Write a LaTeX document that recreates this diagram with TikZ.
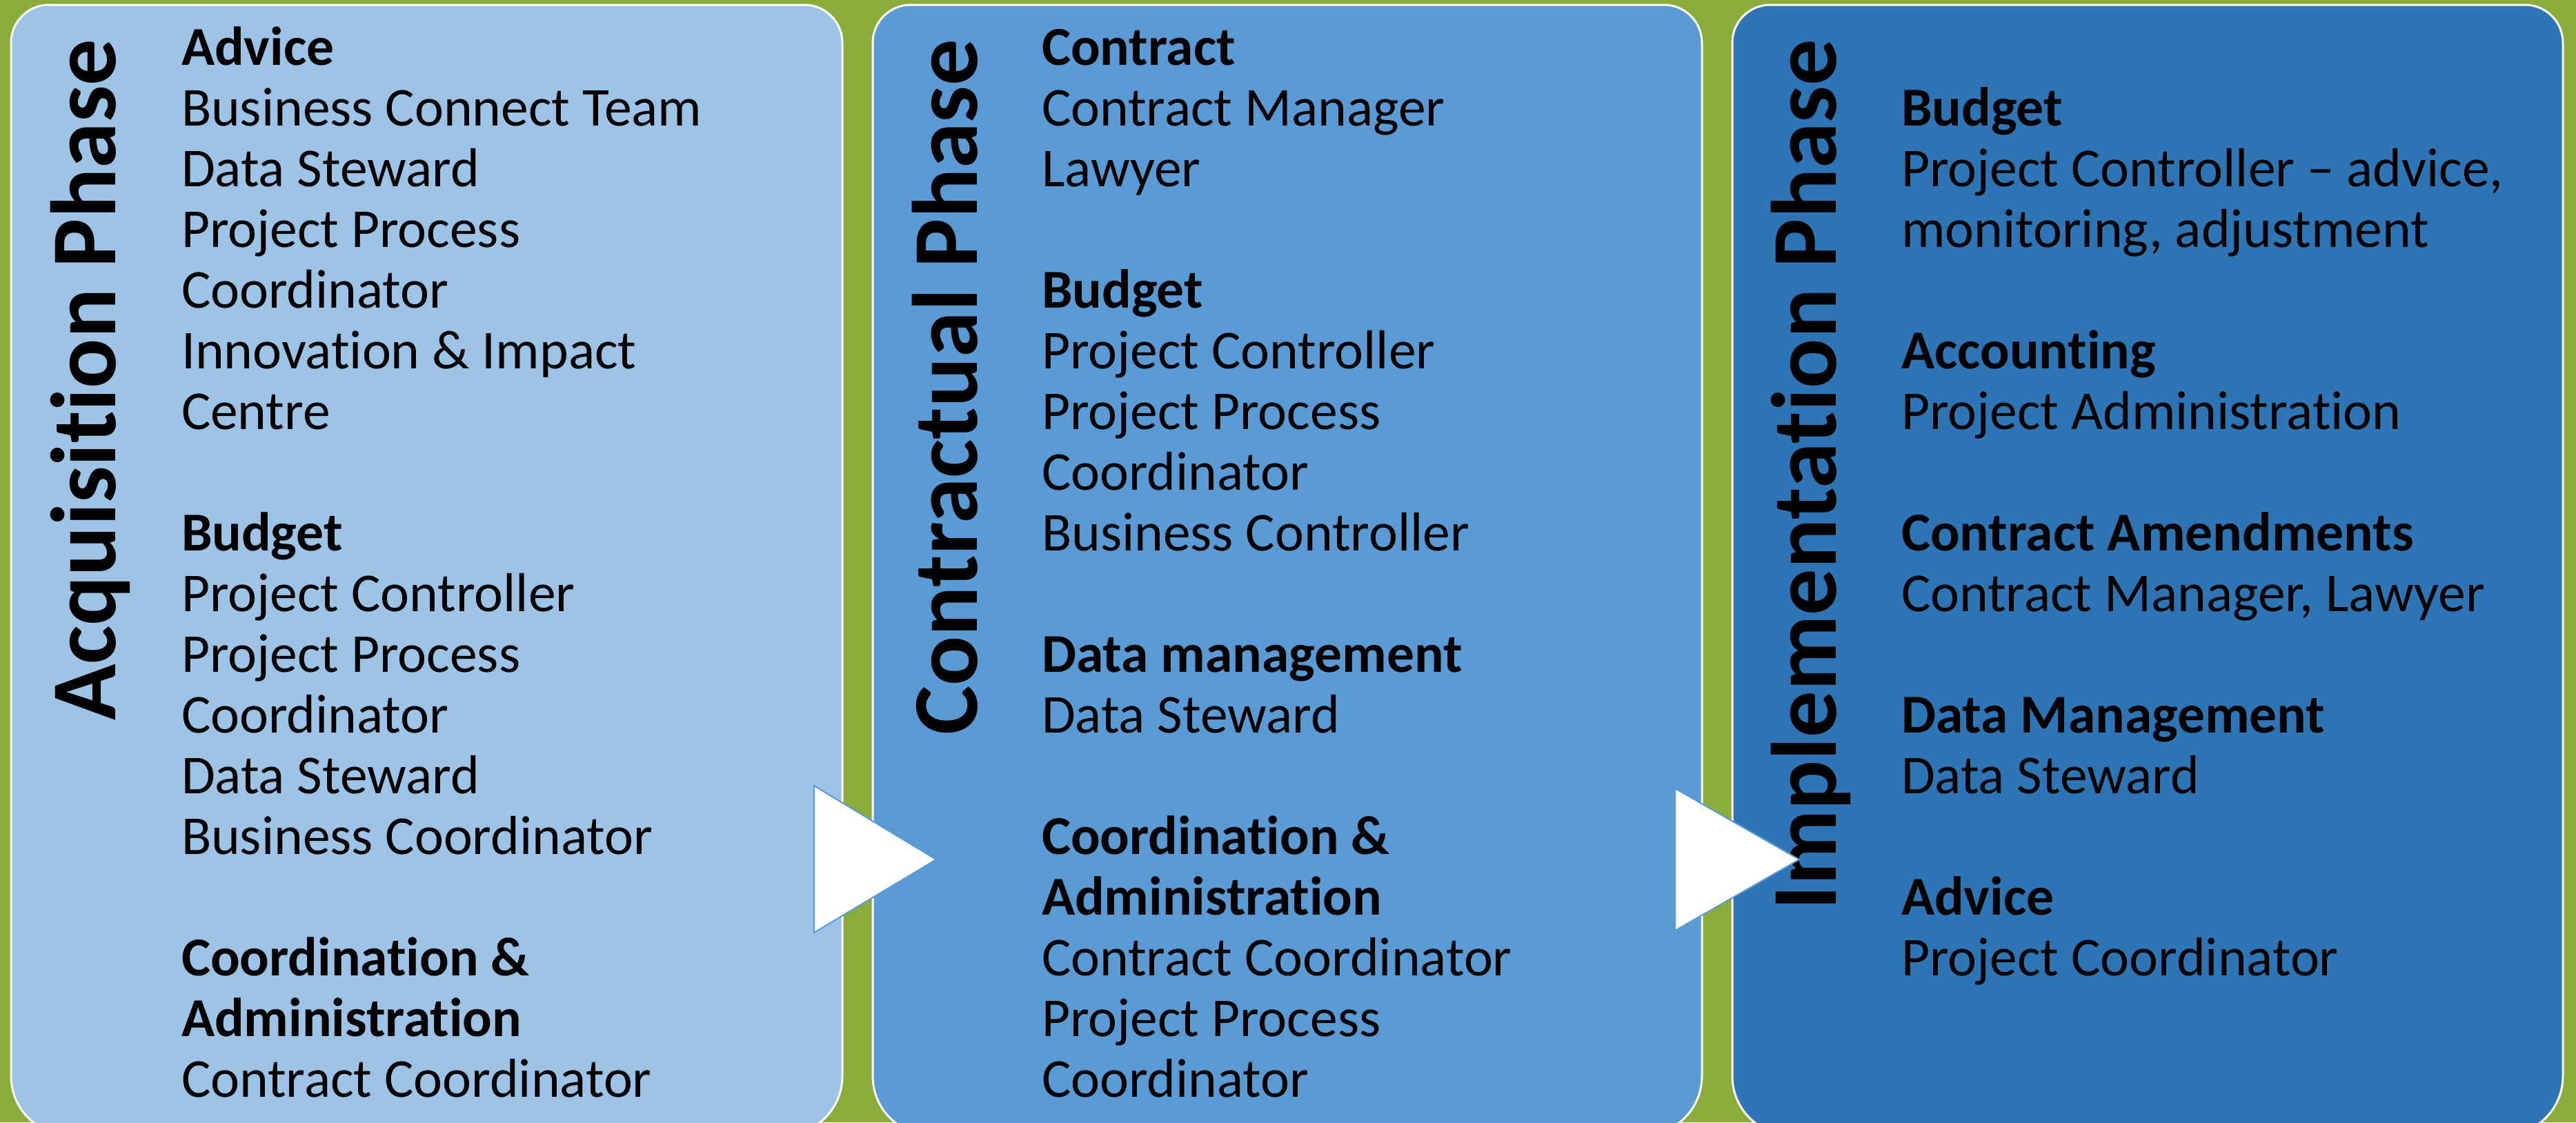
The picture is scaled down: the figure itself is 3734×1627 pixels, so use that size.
\documentclass[tikz,border=0pt]{standalone}
\usepackage{fontspec}
\setmainfont{Carlito}[Ligatures=NoCommon]
\definecolor{bggreen}{HTML}{8AAD3A}
\definecolor{boxA}{HTML}{9DC3E6}
\definecolor{boxB}{HTML}{5B9BD5}
\definecolor{boxC}{HTML}{2E75B6}
\definecolor{triline}{HTML}{5B9BD5}
\newcommand{\phasebox}[3]{%
  \filldraw[fill=#3, draw=white, line width=0.6pt]
    (#1,800) [rounded corners=17.2pt] -- (#1,1646) -- (#2,1646) -- (#2,800)
    [rounded corners=11pt] -- (#2,7) -- (#1,7) [sharp corners] -- cycle;}
\newcommand{\bodytext}[1]{\parbox[t]{220pt}{\raggedright\lineskiplimit=-20pt\fontsize{15.9pt}{17.6pt}\selectfont #1}}
\tikzset{
  title/.style={rotate=90, anchor=base east, inner sep=0pt, font=\fontsize{26.9pt}{30pt}\selectfont\bfseries},
  body/.style={anchor=base west, inner sep=0pt},
  arrowtri/.style={fill=white, draw=triline, line width=0.4pt, line join=miter}
}
\begin{document}
\begin{tikzpicture}[x=0.2pt,y=-0.2pt]
\useasboundingbox (0,0) rectangle (3734,1627);
\clip (0,0) rectangle (3734,1627);
\fill[bggreen] (0,0) rectangle (3734,1627);
\phasebox{16}{1221}{boxA}
\phasebox{1265}{2467}{boxB}
\phasebox{2511}{3715}{boxC}

\node[title] (t1) at (168,56) {Acquisition Phase};
\node[title] (t2) at (1416,56) {Contractual Phase};
\node[title] (t3) at (2661,56) {Implementation Phase};

\node[body] (b1) at (262,94) {\bodytext{%
\textbf{Advice}\\
Business Connect Team\\
Data Steward\\
Project Process\\
Coordinator\\
Innovation \& Impact\\
Centre\\[17.6pt]
\textbf{Budget}\\
Project Controller\\
Project Process\\
Coordinator\\
Data Steward\\
Business Coordinator\\[17.6pt]
\textbf{Coordination \&}\\
\textbf{Administration}\\
Contract Coordinator}};

\node[body] (b2) at (1509,94) {\bodytext{%
\textbf{Contract}\\
Contract Manager\\
Lawyer\\[17.6pt]
\textbf{Budget}\\
Project Controller\\
Project Process\\
Coordinator\\
Business Controller\\[17.6pt]
\textbf{Data management}\\
Data Steward\\[17.6pt]
\textbf{Coordination \&}\\
\textbf{Administration}\\
Contract Coordinator\\
Project Process\\
Coordinator}};

\node[body] (b3) at (2755,182) {\bodytext{%
\textbf{Budget}\\
Project Controller – advice,\\
monitoring, adjustment\\[17.6pt]
\textbf{Accounting}\\
Project Administration\\[17.6pt]
\textbf{Contract Amendments}\\
Contract Manager, Lawyer\\[17.6pt]
\textbf{Data Management}\\
Data Steward\\[17.6pt]
\textbf{Advice}\\
Project Coordinator}};

\draw[arrowtri] (1180,1139) coordinate (a1) -- (1357,1246) coordinate (a1tip) -- (1180,1352) -- cycle;
\draw[arrowtri] (2428,1143) coordinate (a2) -- (2608,1246) coordinate (a2tip) -- (2428,1349) -- cycle;
\end{tikzpicture}
\end{document}
